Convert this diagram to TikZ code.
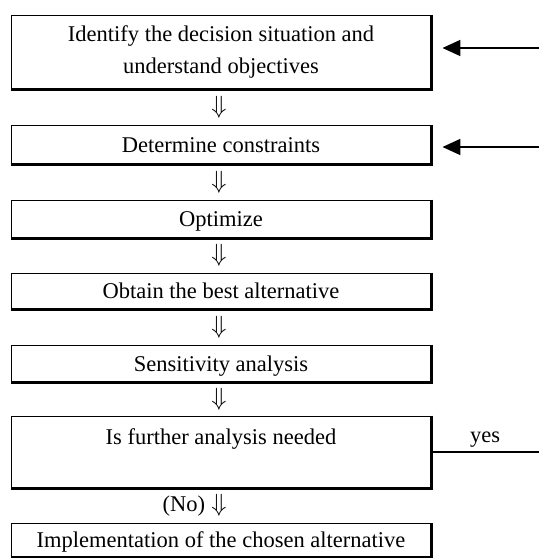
\documentclass[tikz,border=0pt]{standalone}
\usepackage{fontspec}
\setmainfont{Liberation Serif}
\usetikzlibrary{arrows.meta,calc}
\begin{document}
\begin{tikzpicture}[x=1pt,y=-1pt,
  font=\fontsize{22.5}{32}\selectfont,
  box/.style={draw, line width=0.9pt, minimum width=420pt, inner sep=0pt, align=center},
  oneline/.style={box, text height=15.5pt, text depth=0pt},
  shadowedge/.style={line width=2.8pt, line join=miter},
  darr/.style={inner sep=0pt, xshift=-2pt, font=\fontsize{29}{30}\selectfont},
  feed/.style={line width=1.8pt, -{Triangle[length=18pt,width=16pt]}, shorten >=11pt},
  yesline/.style={line width=1.4pt}]
\useasboundingbox (0,0) rectangle (539,559);
% boxes
\node[box, minimum height=74pt] (b1) at (221,52) {Identify the decision situation and\\understand objectives};
\node[oneline, minimum height=39pt] (b2) at (221,144.5) {Determine constraints};
\node[oneline, minimum height=38pt] (b3) at (221,219) {Optimize};
\node[oneline, minimum height=36pt] (b4) at (221,291) {Obtain the best alternative};
\node[oneline, minimum height=37pt] (b5) at (221,363.5) {Sensitivity analysis};
\node[box, minimum height=72pt] (b6) at (221,452) {};
\node[anchor=base, inner sep=0pt] (t6) at ($(b6.north)+(0,29)$) {Is further analysis needed};
\node[oneline, minimum height=33pt] (b7) at (221,540) {Implementation of the chosen alternative};
% shadow edges
\foreach \n in {b1,b2,b3,b4,b5,b6,b7}
  \draw[shadowedge] (\n.north east) -- (\n.south east) -- (\n.south west);
% down arrows
\path (b1.south) -- node[darr] (a1) {$\Downarrow$} (b2.north);
\path (b2.south) -- node[darr] (a2) {$\Downarrow$} (b3.north);
\path (b3.south) -- node[darr] (a3) {$\Downarrow$} (b4.north);
\path (b4.south) -- node[darr] (a4) {$\Downarrow$} (b5.north);
\path (b5.south) -- node[darr] (a5) {$\Downarrow$} (b6.north);
\path (b6.south) -- node[darr, font=\fontsize{24}{26}\selectfont] (a6) {$\Downarrow$} (b7.north);
\node[anchor=base east, inner sep=0pt, xshift=-6pt] (no) at (a6.base west) {(No)};
% feedback arrows
\coordinate (in1) at (539,48);
\coordinate (in2) at (539,147);
\coordinate (out) at (539,452);
\draw[feed] (in1) -- (in1 -| b1.east);
\draw[feed] (in2) -- (in2 -| b2.east);
\draw[yesline] (b6.east) -- node[midway, above, inner sep=0pt, yshift=4pt] {yes} (out);
\end{tikzpicture}
\end{document}
